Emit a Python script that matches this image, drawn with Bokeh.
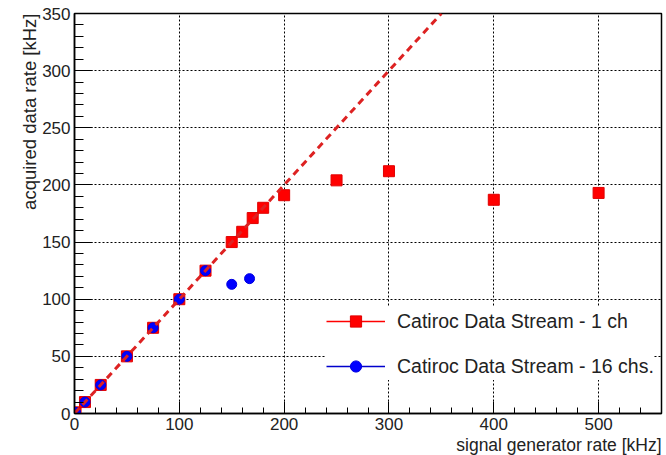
import numpy as np
from bokeh.plotting import figure
from bokeh.models import Range1d, Legend, LegendItem, SingleIntervalTicker, Title
from bokeh.embed import file_html
from bokeh.resources import INLINE

# --- data ---
rate_1ch_x = [1, 10, 25, 50, 75, 100, 125, 150, 160, 170, 180, 200, 250, 300, 400, 500]
rate_1ch_y = [1, 10, 25, 50, 75, 100, 125, 150, 159, 171, 180, 191, 204, 212, 187, 193]
rate_16ch_x = [1, 10, 25, 50, 75, 100, 125, 150, 167]
rate_16ch_y = [1, 10, 25, 50, 75, 100, 125, 113, 118]
fit_slope = 1.0
fit_x = [0, 350]
fit_y = [fit_slope * v for v in fit_x]

label_1ch = "Catiroc Data Stream - 1 ch"
label_16ch = "Catiroc Data Stream - 16 chs."
x_title = "signal generator rate [kHz]"
y_title = "acquired data rate [kHz]"

FONT = "Liberation Sans"

p = figure(width=666, height=455, output_backend="svg", toolbar_location=None,
           x_range=Range1d(0, 560), y_range=Range1d(0, 350),
           min_border_left=74, min_border_right=5, min_border_top=13, min_border_bottom=42)

p.background_fill_color = "white"
p.border_fill_color = "white"
p.outline_line_color = "black"
p.outline_line_width = 1.5

p.xaxis.ticker = SingleIntervalTicker(interval=100, num_minor_ticks=5)
p.yaxis.ticker = SingleIntervalTicker(interval=50, num_minor_ticks=5)

for ax in (p.xaxis[0], p.yaxis[0]):
    ax.axis_line_color = "black"
    ax.axis_line_width = 1.5
    ax.major_tick_line_color = "black"
    ax.minor_tick_line_color = "black"
    ax.major_tick_out = 0
    ax.minor_tick_out = 0
    ax.major_label_text_font = FONT
    ax.major_label_text_font_size = "17px"
    ax.major_label_text_color = "#222222"
    ax.major_label_standoff = 4

p.yaxis.major_tick_in = 18
p.yaxis.minor_tick_in = 9
p.xaxis.major_tick_in = 12
p.xaxis.minor_tick_in = 6

for g in (p.xgrid[0], p.ygrid[0]):
    g.grid_line_color = "black"
    g.grid_line_dash = "2 2"
    g.grid_line_width = 1

# data
sq = p.scatter(rate_1ch_x, rate_1ch_y, marker="square", size=11,
               fill_color="#ff0000", line_color="#e00000")
ci = p.scatter(rate_16ch_x, rate_16ch_y, marker="circle", size=10,
               fill_color="#0000ff", line_color="#0000e0")
p.line(fit_x, fit_y, line_color="#dd2222", line_width=3, line_dash="7 5")

# legend helper lines (NaN data, only visible in the legend)
l1 = p.line(x=[np.nan, np.nan], y=[np.nan, np.nan], line_color="#ff0000", line_width=1.5)
l2 = p.line(x=[np.nan, np.nan], y=[np.nan, np.nan], line_color="#0000cc", line_width=1.5)

legend = Legend(items=[
    LegendItem(label=label_1ch, renderers=[l1, sq]),
    LegendItem(label=label_16ch, renderers=[l2, ci]),
], location=(252, 33))
legend.background_fill_color = "white"
legend.background_fill_alpha = 1.0
legend.border_line_color = None
legend.padding = 8
legend.margin = 0
legend.glyph_width = 59
legend.glyph_height = 28
legend.label_height = 20
legend.spacing = 17
legend.label_standoff = 12
legend.label_text_font = FONT
legend.label_text_font_size = "19.5px"
legend.label_text_color = "#222222"
p.add_layout(legend, "center")

p.add_layout(Title(text=y_title, align="right", standoff=0,
                   text_font=FONT, text_font_size="18.5px", text_font_style="normal",
                   text_color="#222222"), "left")
p.add_layout(Title(text=x_title, align="right", standoff=0,
                   text_font=FONT, text_font_size="17.5px", text_font_style="normal",
                   text_color="#222222"), "below")

open("out.html", "w").write(file_html(p, INLINE))
